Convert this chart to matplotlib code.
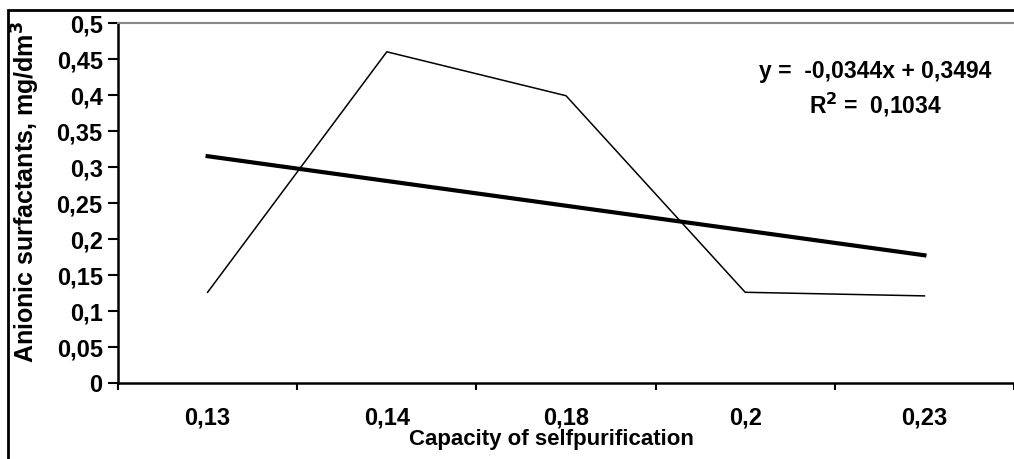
import matplotlib.pyplot as plt
from matplotlib.patches import Rectangle
import numpy as np

plt.rcParams['font.family'] = ['Liberation Sans', 'DejaVu Sans']
plt.rcParams['font.weight'] = 'bold'

categories = ['0,13', '0,14', '0,18', '0,2', '0,23']
surfactants = [0.126, 0.46, 0.399, 0.126, 0.121]
slope = -0.0344
intercept = 0.3494

W, H = 1014, 459
fig = plt.figure(figsize=(W / 100, H / 100), dpi=100)
ax = fig.add_axes([118 / W, (H - 383) / H, 1 - 118 / W, 360 / H])

x = np.arange(1, len(categories) + 1)
ax.plot(x, surfactants, color='black', lw=1.1)
ax.plot(x, slope * x + intercept, color='black', lw=3)

ax.set_xlim(0.5, len(categories) + 0.5)
ax.set_ylim(0, 0.5)
yt = np.arange(0, 0.51, 0.05)
ax.set_yticks(yt)
ax.set_yticklabels(['0' if v == 0 else f'{v:.2f}'.rstrip('0').replace('.', ',') for v in yt])
ax.set_xticks(x)
ax.set_xticklabels(categories)
ax.set_xticks(np.arange(0.5, len(categories) + 1), minor=True)
ax.tick_params(axis='x', which='major', length=0, pad=17, labelsize=17)
ax.tick_params(axis='x', which='minor', length=5, width=1.5)
ax.tick_params(axis='y', length=7, width=1.5, labelsize=17, pad=4)

for s in ['left', 'bottom']:
    ax.spines[s].set_linewidth(1.8)
ax.spines['top'].set_color('#888888')
ax.spines['top'].set_linewidth(1.5)
ax.spines['right'].set_visible(False)

ax.set_xlabel('Capacity of selfpurification', fontsize=16, fontweight='bold', va='center')
ax.xaxis.set_label_coords((551 - 118) / 896, (383 - 439) / 360)
ax.set_ylabel('Anionic surfactants, mg/dm$^\\mathbf{3}$', fontsize=18, fontweight='bold', va='center')
ax.yaxis.set_label_coords((26 - 118) / 896, (383 - 192) / 360)

ax.text(0.845, 0.864, 'y =  -0,0344x + 0,3494', transform=ax.transAxes,
        ha='center', va='center', fontsize=16.5, fontweight='bold')
ax.text(0.845, 0.772, 'R$^\\mathbf{2}$ =  0,1034', transform=ax.transAxes,
        ha='center', va='center', fontsize=16.5, fontweight='bold')

fig.patches.append(Rectangle((8 / W, -0.1), 1.2, (H - 10) / H + 0.1,
                             transform=fig.transFigure, fill=False,
                             edgecolor='black', lw=2))

fig.savefig('out.png', dpi=100)
